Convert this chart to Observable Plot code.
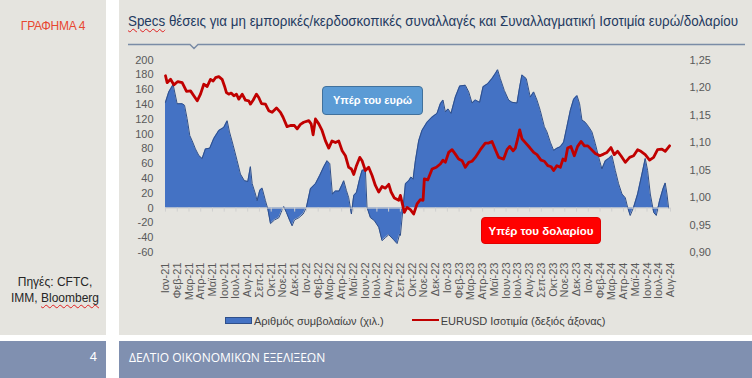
<!DOCTYPE html>
<html>
<head>
<meta charset="utf-8">
<script src="https://cdn.jsdelivr.net/npm/d3@7"></script>
<script src="https://cdn.jsdelivr.net/npm/@observablehq/plot@0.6"></script>
<style>
  body { margin:0; width:752px; height:378px; background:#fff; position:relative; overflow:hidden;
         font-family:"Liberation Sans", Arial, sans-serif; }
  .abs { position:absolute; }
  .panel { background:#e5e4df; }
  .foot { background:#8090b0; color:#fff; }
  .spell { text-decoration: underline wavy #e02020; text-decoration-thickness:1px; text-underline-offset:2px; }
  .badge { position:absolute; color:#fff; font-weight:bold; font-size:11px; text-align:center; border-radius:4px; box-sizing:border-box; }
</style>
</head>
<body>
<script>
// ---- Data ----
// month offset from Jan-2021 (0 = Ιαν-21), weekly CFTC speculative positions (thousand contracts)
const posMonth = [0, 0.28, 0.65, 0.99, 1.42, 1.62, 1.84, 2.07, 2.27, 2.55, 2.84, 3.12, 3.40, 3.77, 4.11, 4.54, 4.96, 5.25, 5.45, 5.76, 6.10, 6.38, 6.72, 7.01, 7.23, 7.38, 7.66, 7.80, 8.03, 8.23, 8.51, 8.71, 8.94, 9.28, 9.65, 9.84, 10.07, 10.30, 10.58, 10.78, 10.98, 11.35, 11.72, 12.0, 12.34, 12.77, 13.13, 13.48, 13.76, 13.99, 14.21, 14.47, 14.78, 15.04, 15.18, 15.40, 15.60, 15.83, 16.03, 16.26, 16.54, 16.74, 17.02, 17.16, 17.45, 17.79, 18.16, 18.44, 18.72, 19.01, 19.38, 19.72, 19.94,
  20.0, 20.23, 20.43, 20.71, 20.91, 21.08, 21.28, 21.56, 21.84, 22.27, 22.70, 23.12, 23.40, 23.63, 23.83, 24.06, 24.31, 24.68, 25.05, 25.53, 25.82, 26.10, 26.38, 26.75, 27.04, 27.43, 27.80, 28.09, 28.28, 28.51, 28.85, 29.22, 29.50, 29.93, 30.16, 30.35, 30.72, 31.06, 31.35, 31.63, 31.91, 32.26, 32.48, 32.77, 33.05, 33.33, 33.62, 33.90, 34.18, 34.47, 34.75, 35.04, 35.26, 35.46, 35.74, 36.03, 36.31, 36.60, 36.88, 37.16, 37.45, 37.73, 38.01, 38.30, 38.58, 38.87, 39.15, 39.35, 39.57, 39.86, 40.20, 40.57, 40.85, 41.05, 41.28, 41.57, 41.79, 42.07, 42.36, 42.55, 42.70, 42.84];
const posValue = [143, 157, 167, 141, 141, 139, 121, 98, 91, 80, 71, 67, 80, 81, 94, 105, 109, 118, 103, 85, 64, 46, 37, 36, 56, 33, 19, 10, 24, 27, 10, -1, -21, -16, -13, -6, 2, -6, -17, -24, -16, -13, -8, 1, 26, 33, 44, 56, 64, 60, 19, 23, 23, 32, 37, 24, 14, -8, 17, 21, 40, 51, 52, 1, -13, -17, -26, -44, -40, -36, -42, -48, -35,
  -37, 1, 33, 37, 42, 39, 64, 91, 105, 116, 123, 128, 141, 146, 130, 134, 128, 150, 165, 166, 157, 142, 146, 143, 164, 168, 175, 182, 187, 175, 159, 146, 143, 142, 164, 180, 175, 150, 157, 146, 132, 110, 103, 89, 78, 81, 83, 89, 110, 132, 147, 152, 141, 119, 116, 110, 103, 87, 69, 53, 64, 67, 71, 51, 33, 19, 14, 1, -10, 1, 19, 46, 67, 51, 19, -6, -10, 10, 26, 34, 19, 0];

// EUR/USD exchange rate (right axis)
const fxMonth = [0, 0.14, 0.43, 0.71, 1.05, 1.42, 1.56, 1.79, 2.13, 2.41, 2.70, 2.98, 3.26, 3.55, 3.83, 4.06, 4.26, 4.54, 4.82, 5.02, 5.19, 5.39, 5.59, 5.82, 6.04, 6.24, 6.53, 6.81, 7.09, 7.23, 7.46, 7.74, 7.94, 8.17, 8.51, 8.79, 9.08, 9.45, 9.79, 10.01, 10.35, 10.64, 10.98, 11.21, 11.49, 11.77, 12.20, 12.40, 12.57, 12.77, 13.05, 13.33, 13.62, 13.90, 14.18, 14.47, 14.75, 15.04, 15.32, 15.60, 15.83, 16.03, 16.26, 16.54, 16.74, 17.02, 17.30, 17.59, 17.87, 18.16, 18.44, 18.72, 19.01, 19.21, 19.49, 19.86,
  20.0, 20.34, 20.57, 20.85, 21.13, 21.42, 21.70, 21.93, 22.04, 22.33, 22.70, 23.06, 23.40, 23.63, 23.83, 24.11, 24.40, 24.68, 24.96, 25.25, 25.53, 25.82, 26.10, 26.38, 26.81, 27.23, 27.52, 27.80, 28.09, 28.37, 28.79, 29.08, 29.31, 29.60, 29.79, 29.99, 30.16, 30.35, 30.64, 31.01, 31.35, 31.63, 31.97, 32.26, 32.55, 32.84, 33.05, 33.33, 33.62, 33.84, 34.04, 34.24, 34.52, 34.81, 35.09, 35.38, 35.67, 35.96, 36.23, 36.60, 36.99, 37.30, 37.59, 37.93, 38.21, 38.50, 38.78, 39.15, 39.52, 39.86, 40.20, 40.48, 40.85, 41.22, 41.56, 41.90, 42.27, 42.55, 42.92];
const fxValue = [1.2215, 1.209, 1.215, 1.205, 1.211, 1.209, 1.203, 1.193, 1.194, 1.185, 1.176, 1.188, 1.206, 1.202, 1.215, 1.212, 1.218, 1.220, 1.215, 1.203, 1.191, 1.188, 1.190, 1.185, 1.188, 1.179, 1.188, 1.177, 1.176, 1.170, 1.177, 1.188, 1.182, 1.171, 1.170, 1.158, 1.155, 1.163, 1.155, 1.146, 1.129, 1.131, 1.131, 1.125, 1.133, 1.137, 1.140, 1.134, 1.114, 1.143, 1.134, 1.122, 1.103, 1.090, 1.103, 1.100, 1.103, 1.085, 1.076, 1.055, 1.052, 1.042, 1.058, 1.073, 1.067, 1.049, 1.055, 1.040, 1.022, 1.010, 1.020, 1.017, 1.024, 1.010, 0.999, 0.995,
  1.004, 0.973, 0.982, 0.978, 0.970, 0.9885, 0.996, 0.995, 1.034, 1.032, 1.052, 1.055, 1.061, 1.068, 1.064, 1.082, 1.087, 1.079, 1.070, 1.067, 1.055, 1.064, 1.066, 1.073, 1.087, 1.099, 1.099, 1.102, 1.087, 1.073, 1.070, 1.087, 1.093, 1.085, 1.090, 1.107, 1.123, 1.107, 1.100, 1.091, 1.082, 1.078, 1.068, 1.066, 1.058, 1.056, 1.049, 1.058, 1.055, 1.070, 1.067, 1.090, 1.093, 1.076, 1.093, 1.102, 1.094, 1.094, 1.088, 1.080, 1.076, 1.079, 1.082, 1.091, 1.078, 1.084, 1.076, 1.064, 1.073, 1.076, 1.087, 1.084, 1.078, 1.068, 1.073, 1.087, 1.088, 1.084, 1.094];

const monthNames = ["Ιαν", "Φεβ", "Μαρ", "Απρ", "Μαϊ", "Ιουν", "Ιουλ", "Αυγ", "Σεπ", "Οκτ", "Νοε", "Δεκ"];
const years = ["21", "22", "23", "24"];
const lastMonthIndex = 43; // Αυγ-24
const leftTicks = [-60, -40, -20, 0, 20, 40, 60, 80, 100, 120, 140, 160, 180, 200];
const rightTicks = [0.90, 0.95, 1.00, 1.05, 1.10, 1.15, 1.20, 1.25];

const titleText = "Specs θέσεις για μη εμπορικές/κερδοσκοπικές συναλλαγές και Συναλλαγματική Ισοτιμία ευρώ/δολαρίου";
const legendPos = "Αριθμός συμβολαίων (χιλ.)";
const legendFx = "EURUSD Ισοτιμία (δεξιός άξονας)";
</script>

<div class="abs panel" style="left:0;top:0;width:106px;height:335px"></div>
<div class="abs panel" style="left:119px;top:0;width:633px;height:335px"></div>
<div class="abs foot" style="left:0;top:341px;width:106px;height:37px"></div>
<div class="abs foot" style="left:119px;top:341px;width:633px;height:37px"></div>

<div class="abs" style="left:0;top:19px;width:106px;text-align:center;color:#e8472f;font-size:12px;letter-spacing:-0.3px">ΓΡΑΦΗΜΑ 4</div>
<div class="abs" style="left:0;top:274px;width:110px;text-align:center;color:#262626;font-size:12px;line-height:16px">Πηγές: CFTC,<br>IMM, <span class="spell">Bloomberg</span></div>
<div class="abs" style="left:0;top:349px;width:97px;text-align:right;color:#fff;font-size:13px">4</div>
<div class="abs" style="left:129px;top:349px;color:#fff;font-size:12px;font-family:'Open Sans','Liberation Sans',sans-serif">ΔΕΛΤΙΟ ΟΙΚΟΝΟΜΙΚΩΝ ΕΞΕΛΙΞΕΩΝ</div>

<div id="title" class="abs" style="left:128px;top:13px;color:#1f3a5f;font-size:14px;font-family:'Liberation Sans',Arial,sans-serif;white-space:nowrap;transform-origin:0 0"></div>
<svg class="abs" style="left:119px;top:40px" width="633" height="12">
  <path d="M9,4.5 H71 L75,8.5 L79,4.5 H626" fill="none" stroke="#7a8ca6" stroke-width="1.5"/>
</svg>

<div id="chart" class="abs" style="left:119px;top:50px"></div>

<div class="badge" style="left:322px;top:86px;width:101px;height:29px;line-height:27px;background:#5b9bd5;border:1px solid #41719c">Υπέρ του ευρώ</div>
<div class="badge" style="left:481px;top:217px;width:120px;height:27px;line-height:26px;background:#ff0000;border:1px solid #e00000;font-size:11.5px">Υπέρ του δολαρίου</div>

<div id="legend" class="abs" style="left:225px;top:314px;height:14px;font-size:11px;color:#404040;white-space:nowrap"></div>

<script>
const titleEl = document.getElementById("title");
titleEl.innerHTML = titleText.replace("Specs", '<span class="spell">Specs</span>');
const tw = titleEl.getBoundingClientRect().width;
titleEl.style.transform = "scaleX(" + (610 / tw) + ")";

const posData = posMonth.map((m, i) => ({m, v: posValue[i]}));
const fxData = fxMonth.map((m, i) => ({m, v: fxValue[i]}));
const tickLabels = [];
for (let i = 0; i <= lastMonthIndex; i++) tickLabels.push(monthNames[i % 12] + "-" + years[Math.floor(i / 12)]);
const monthTicks = d3.range(0, lastMonthIndex + 1);

// map right-axis (EUR/USD) values onto the left-axis scale
const L0 = -60, L1 = 200, R0 = 0.90, R1 = 1.25;
const toLeft = v => L0 + (v - R0) / (R1 - R0) * (L1 - L0);
const fromLeft = l => R0 + (l - L0) / (L1 - L0) * (R1 - R0);

const chart = Plot.plot({
  width: 633,
  height: 250,
  marginLeft: 46,
  marginRight: 82,
  marginTop: 9.6,
  marginBottom: 48,
  x: {type: "linear", domain: [0, lastMonthIndex]},
  y: {domain: [L0, L1]},
  style: {background: "transparent", fontFamily: "'Liberation Sans', Arial, sans-serif", fontSize: "11px", color: "#595959", overflow: "visible"},
  marks: [
    Plot.areaY(posData, {x: "m", y: "v", fill: "#4472c4"}),
    Plot.lineY(posData, {x: "m", y: "v", stroke: "#2f4f8a", strokeWidth: 1}),
    Plot.ruleY([0], {stroke: "#d0d0d0", strokeWidth: 1}),
    Plot.ruleX(monthTicks, {x: d => d, y1: 0, y2: -5.4, stroke: "#d0d0d0", strokeWidth: 1}),
    Plot.lineY(fxData, {x: "m", y: d => toLeft(d.v), stroke: "#c00000", strokeWidth: 2.8, strokeLinejoin: "round"}),
    Plot.axisY(leftTicks, {anchor: "left", tickSize: 0, tickPadding: 12, label: null, tickFormat: d => String(d)}),
    Plot.axisY(rightTicks.map(toLeft), {anchor: "right", tickSize: 0, tickPadding: 19, label: null,
      tickFormat: d => fromLeft(d).toFixed(2).replace(".", ",")}),
    Plot.axisX(monthTicks, {anchor: "bottom", tickSize: 0, tickPadding: 10, tickRotate: -90, label: null,
      tickFormat: d => tickLabels[d]})
  ]
});
document.getElementById("chart").appendChild(chart);

document.getElementById("legend").innerHTML =
  '<span style="display:inline-block;width:25px;height:5px;background:#4472c4;border:0.5px solid #2f4f8a;vertical-align:middle;margin-right:2px;position:relative;top:-1px"></span>' +
  '<span style="vertical-align:middle">' + legendPos + '</span>' +
  '<span style="display:inline-block;width:27px;height:2.5px;background:#c00000;vertical-align:middle;margin-left:28px;margin-right:2px;position:relative;top:-1px"></span>' +
  '<span style="vertical-align:middle">' + legendFx + '</span>';
</script>
</body>
</html>
